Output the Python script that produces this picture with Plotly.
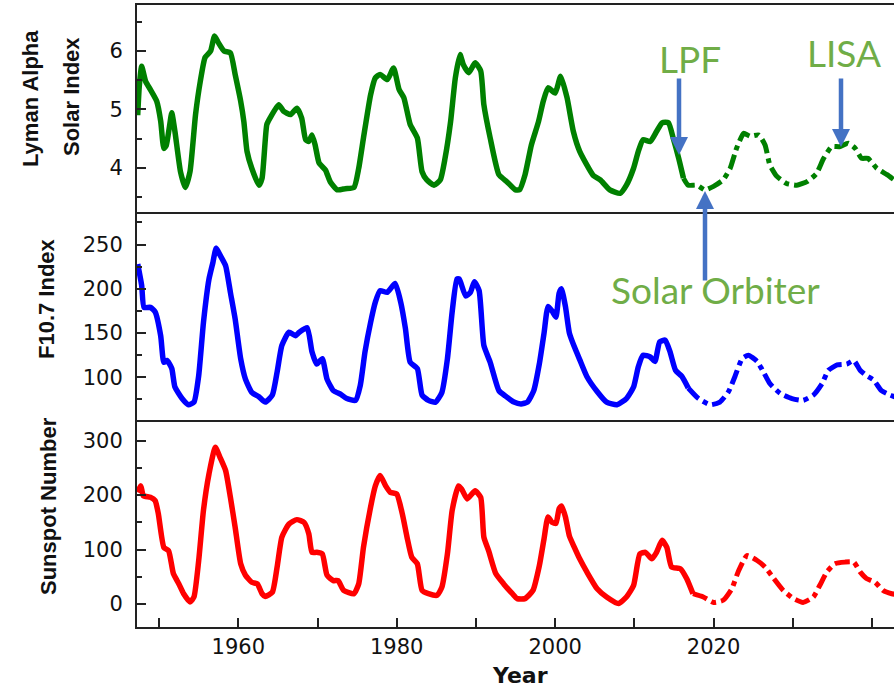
import plotly.graph_objects as go
from plotly.subplots import make_subplots

# ---------------- data ----------------
ly_years = [1947.3, 1947.5, 1947.8, 1948.3, 1948.9, 1949.7, 1950.2, 1950.6, 1950.9, 1951.3,
            1951.6, 1952.0, 1952.7, 1953.3, 1953.9, 1954.6, 1955.2, 1955.8, 1956.5, 1957.0,
            1957.5, 1958.2, 1959.0, 1959.6, 1960.3, 1960.7, 1961.1, 1961.7, 1962.6, 1963.0,
            1963.6, 1964.0, 1965.1, 1965.7, 1966.6, 1967.4, 1968.0, 1968.5, 1968.9, 1969.3,
            1969.7, 1970.2, 1971.0, 1971.6, 1972.5, 1973.5, 1974.6, 1975.2, 1975.8, 1976.7,
            1977.3, 1977.9, 1978.8, 1979.6, 1980.3, 1980.9, 1981.7, 1982.6, 1983.2, 1983.8,
            1984.7, 1985.5, 1986.1, 1986.8, 1987.4, 1988.0, 1988.4, 1989.1, 1989.9, 1990.6,
            1991.0, 1991.8, 1992.9, 1993.9, 1995.0, 1995.5, 1996.2, 1997.0, 1997.9, 1998.5,
            1999.1, 2000.0, 2000.7, 2001.5, 2002.3, 2003.1, 2004.8, 2005.7, 2006.9, 2008.2,
            2009.0, 2009.9, 2010.5, 2011.1, 2012.0, 2012.8, 2013.5, 2014.3, 2014.9, 2015.6,
            2016.2]
ly_values = [4.90, 5.40, 5.74, 5.48, 5.34, 5.14, 4.80, 4.33, 4.38, 4.70,
             4.94, 4.62, 3.93, 3.66, 3.93, 4.91, 5.48, 5.89, 6.00, 6.26,
             6.14, 6.00, 5.97, 5.60, 5.14, 4.79, 4.28, 3.99, 3.70, 3.82,
             4.74, 4.85, 5.08, 4.97, 4.91, 5.02, 4.85, 4.48, 4.45, 4.56,
             4.39, 4.08, 3.96, 3.76, 3.62, 3.64, 3.66, 3.99, 4.51, 5.25,
             5.54, 5.60, 5.51, 5.71, 5.34, 5.20, 4.74, 4.51, 3.93, 3.79,
             3.70, 3.79, 4.16, 4.79, 5.54, 5.94, 5.77, 5.63, 5.80, 5.66,
             5.08, 4.51, 3.88, 3.76, 3.62, 3.62, 3.88, 4.39, 4.79, 5.14,
             5.37, 5.28, 5.57, 5.20, 4.62, 4.28, 3.87, 3.79, 3.62, 3.56,
             3.70, 3.99, 4.28, 4.48, 4.45, 4.62, 4.77, 4.77, 4.51, 4.16,
             3.82]
ly_fc_years = [2016.2, 2016.8, 2017.9, 2018.9, 2020.0, 2021.2, 2022.1, 2022.9, 2023.8, 2024.6,
               2025.7, 2026.5, 2027.1, 2028.0, 2029.2, 2030.5, 2031.8, 2033.0, 2033.9, 2034.9,
               2035.9, 2037.0, 2037.9, 2038.7, 2039.5, 2040.6, 2041.9, 2042.9]
ly_fc_values = [3.82, 3.70, 3.70, 3.62, 3.68, 3.79, 3.99, 4.33, 4.59, 4.54,
                4.56, 4.39, 4.05, 3.85, 3.73, 3.70, 3.76, 3.90, 4.16, 4.36,
                4.36, 4.42, 4.33, 4.16, 4.16, 3.99, 3.88, 3.78]

f107_years = [1947.3, 1947.8, 1948.1, 1948.9, 1949.5, 1950.2, 1950.6, 1951.0, 1951.6, 1952.0,
              1952.9, 1953.7, 1954.4, 1955.0, 1955.6, 1956.3, 1956.8, 1957.2, 1957.7, 1958.4,
              1959.0, 1959.6, 1960.3, 1960.9, 1961.7, 1962.6, 1963.4, 1964.3, 1964.9, 1965.5,
              1966.4, 1967.2, 1967.7, 1968.7, 1969.3, 1969.9, 1970.6, 1971.2, 1972.0, 1972.9,
              1973.7, 1974.8, 1975.4, 1976.0, 1976.7, 1977.3, 1977.9, 1978.8, 1979.8, 1980.5,
              1981.1, 1981.7, 1982.6, 1983.2, 1984.0, 1984.9, 1985.7, 1986.4, 1987.0, 1987.6,
              1987.9, 1988.7, 1989.3, 1989.8, 1990.4, 1991.0, 1991.8, 1992.9, 1993.7, 1994.8,
              1995.7, 1996.5, 1997.3, 1998.0, 1998.6, 1999.1, 1999.6, 2000.1, 2000.5, 2000.8,
              2001.3, 2001.8, 2002.4, 2003.1, 2004.0, 2005.3, 2006.5, 2007.8, 2009.0, 2009.9,
              2010.5, 2011.1, 2012.0, 2012.6, 2013.2, 2013.9, 2014.5, 2015.2, 2016.0, 2016.8]
f107_values = [228, 204, 179, 179, 174, 147, 117, 119, 110, 89,
               76, 69, 72, 102, 162, 211, 230, 246, 238, 226,
               196, 166, 121, 98, 83, 78, 72, 80, 106, 136,
               151, 147, 151, 156, 129, 115, 121, 98, 85, 81,
               76, 74, 91, 129, 162, 185, 198, 196, 206, 185,
               155, 117, 110, 80, 74, 72, 83, 121, 174, 211,
               211, 192, 196, 208, 198, 136, 117, 85, 79, 72,
               70, 72, 85, 115, 150, 180, 175, 168, 195, 200,
               180, 150, 135, 120, 101, 84, 72, 69, 76, 89,
               112, 125, 123, 118, 140, 142, 129, 108, 101, 88]
f107_fc_years = [2016.8, 2018.1, 2019.6, 2020.8, 2021.9, 2022.7, 2023.6, 2024.4, 2025.5, 2026.3,
                 2027.1, 2028.4, 2029.9, 2031.3, 2032.6, 2033.7, 2034.5, 2035.6, 2036.8, 2037.7,
                 2038.5, 2039.3, 2040.2, 2041.2, 2042.3, 2042.9]
f107_fc_values = [88, 76, 69, 72, 84, 101, 121, 125, 118, 106,
                  93, 82, 76, 74, 80, 93, 108, 114, 115, 119,
                  108, 102, 97, 85, 80, 78]

ssn_years = [1947.3, 1947.7, 1948.0, 1948.9, 1949.5, 1949.9, 1950.6, 1951.2, 1951.8, 1952.5,
             1953.1, 1953.9, 1954.4, 1955.0, 1955.6, 1956.3, 1957.1, 1957.7, 1958.4, 1959.0,
             1959.6, 1960.3, 1960.9, 1961.7, 1962.4, 1963.0, 1963.4, 1964.3, 1964.9, 1965.5,
             1966.4, 1967.4, 1968.3, 1968.9, 1969.3, 1969.9, 1970.6, 1971.2, 1972.0, 1972.6,
             1973.3, 1974.6, 1975.2, 1975.8, 1976.7, 1977.3, 1977.9, 1978.6, 1979.2, 1980.0,
             1980.7, 1981.3, 1981.9, 1982.6, 1983.2, 1984.0, 1985.1, 1985.7, 1986.4, 1987.0,
             1987.8, 1988.2, 1988.9, 1989.9, 1990.6, 1991.0, 1991.6, 1992.5, 1993.5, 1994.6,
             1995.2, 1996.2, 1997.2, 1998.0, 1998.6, 1999.1, 1999.6, 2000.1, 2000.5, 2000.8,
             2001.3, 2001.8, 2002.4, 2003.1, 2004.0, 2005.3, 2006.5, 2008.0, 2009.0, 2009.9,
             2010.7, 2011.4, 2012.2, 2012.8, 2013.5, 2014.1, 2014.7, 2015.8, 2016.6, 2017.4]
ssn_values = [205, 217, 199, 196, 190, 166, 104, 98, 56, 37,
              19, 4, 13, 80, 172, 239, 288, 269, 245, 196,
              141, 74, 53, 40, 37, 19, 14, 22, 68, 123,
              147, 155, 150, 129, 95, 95, 92, 53, 43, 43,
              25, 19, 37, 104, 178, 217, 236, 217, 205, 202,
              166, 123, 86, 74, 25, 19, 16, 31, 92, 172,
              217, 211, 193, 208, 196, 123, 98, 56, 37, 19,
              10, 10, 25, 70, 120, 160, 150, 148, 175, 180,
              160, 125, 105, 83, 59, 28, 13, 1, 13, 34,
              92, 95, 83, 95, 117, 104, 68, 65, 47, 19]
ssn_fc_years = [2017.4, 2018.7, 2020.0, 2021.2, 2022.3, 2023.1, 2024.2, 2025.5, 2026.5, 2027.6,
                2028.8, 2030.1, 2031.3, 2032.6, 2033.4, 2034.3, 2035.3, 2036.6, 2037.7, 2038.5,
                2039.3, 2040.4, 2041.4, 2042.5, 2042.9]
ssn_fc_values = [19, 13, 3, 7, 28, 59, 89, 80, 68, 47,
                 25, 10, 3, 13, 34, 59, 74, 77, 77, 59,
                 47, 40, 25, 19, 18]

x_range = [1947.21, 2042.78]
y_ranges = {"ly": [3.24, 6.79], "f107": [51.8, 286.8], "ssn": [-42.1, 337.9]}
panel_titles = [["Lyman Alpha", "Solar Index"], ["F10.7 Index"], ["Sunspot Number"]]
mission_labels = ["LPF", "LISA", "Solar Orbiter"]
x_title = "Year"

# ---------------- figure ----------------
fig = make_subplots(rows=3, cols=1, shared_xaxes=True, vertical_spacing=0)

series = [
    (ly_years, ly_values, ly_fc_years, ly_fc_values, "#008000", 1),
    (f107_years, f107_values, f107_fc_years, f107_fc_values, "#0000FF", 2),
    (ssn_years, ssn_values, ssn_fc_years, ssn_fc_values, "#FF0000", 3),
]
for xs, ys, fxs, fys, col, row in series:
    assert len(xs) == len(ys) and len(fxs) == len(fys)
    fig.add_trace(go.Scatter(x=xs, y=ys, mode="lines",
                             line=dict(color=col, width=5.5, shape="spline", smoothing=0.5),
                             showlegend=False, hoverinfo="skip"), row=row, col=1)
    fig.add_trace(go.Scatter(x=fxs, y=fys, mode="lines",
                             line=dict(color=col, width=5, dash="dashdot",
                                       shape="spline", smoothing=0.5),
                             showlegend=False, hoverinfo="skip"), row=row, col=1)

W, H = 894, 687
ML, MR, MT, MB = 137, 0, 5, 60
PW, PH = W - ML - MR, H - MT - MB

def px_x(X):
    return (X - ML) / PW

def px_y(Y):
    return (H - MB - Y) / PH

b1 = px_y(212)
b2 = px_y(420)

axis_line = dict(showline=True, linewidth=2, linecolor="#222222", showgrid=False, zeroline=False)
tickfont = dict(family="DejaVu Sans", size=21, color="#111111")

fig.update_layout(
    width=W, height=H, template="none",
    margin=dict(l=ML, r=MR, t=MT, b=MB, pad=0),
    paper_bgcolor="white", plot_bgcolor="white",
    yaxis=dict(domain=[b1, 1], range=y_ranges["ly"], dtick=1, tick0=4,
               ticks="inside", ticklen=9, tickwidth=2, tickcolor="#222222",
               minor=dict(ticks="inside", dtick=0.5, tick0=3.5, ticklen=5, tickwidth=2, tickcolor="#222222"),
               tickfont=tickfont, ticklabelstandoff=8, **axis_line),
    yaxis2=dict(domain=[b2, b1], range=y_ranges["f107"],
                tickvals=[100, 150, 200, 250],
                ticks="inside", ticklen=9, tickwidth=2, tickcolor="#222222",
                minor=dict(ticks="inside", dtick=25, tick0=75, ticklen=5, tickwidth=2, tickcolor="#222222"),
                tickfont=tickfont, ticklabelstandoff=8, **axis_line),
    yaxis3=dict(domain=[0, b2], range=y_ranges["ssn"], dtick=100, tick0=0,
                ticks="inside", ticklen=9, tickwidth=2, tickcolor="#222222",
                minor=dict(ticks="inside", dtick=50, tick0=0, ticklen=5, tickwidth=2, tickcolor="#222222"),
                tickfont=tickfont, ticklabelstandoff=8, **axis_line),
    # top panel draws both its top and bottom frame lines; the others only their bottom line
    xaxis=dict(range=x_range, mirror=True, showticklabels=False, ticks="", **axis_line),
    xaxis2=dict(range=x_range, mirror=False, showticklabels=False, ticks="", **axis_line),
    xaxis3=dict(range=x_range, mirror=False, dtick=20, tick0=1960,
                ticks="inside", ticklen=9, tickwidth=2, tickcolor="#222222",
                minor=dict(ticks="inside", dtick=10, tick0=1950, ticklen=9, tickwidth=2, tickcolor="#222222"),
                tickfont=tickfont, ticklabelstandoff=0, **axis_line),
)

title_font = dict(family="Liberation Sans", size=22, color="#111111", weight="bold")
annotations = []
# y-axis titles
for text, X, Y in [(panel_titles[0][0], 31, 98), (panel_titles[0][1], 72, 97),
                   (panel_titles[1][0], 46, 299), (panel_titles[2][0], 48, 506)]:
    annotations.append(dict(text=text, x=px_x(X), y=px_y(Y), xref="paper", yref="paper",
                            xanchor="center", yanchor="middle", textangle=-90,
                            showarrow=False, font=title_font))
# x-axis title
annotations.append(dict(text=x_title, x=px_x(520), y=px_y(675), xref="paper", yref="paper",
                        xanchor="center", yanchor="middle", showarrow=False,
                        font=dict(family="DejaVu Sans", size=22, color="#111111", weight="bold")))
# mission labels
lab_font = dict(family="Lato", size=37, color="#70AD47")
for text, X, Y in [(mission_labels[0], 690, 58), (mission_labels[1], 844, 52),
                   (mission_labels[2], 715, 289)]:
    annotations.append(dict(text=text, x=px_x(X), y=px_y(Y), xref="paper", yref="paper",
                            xanchor="center", yanchor="middle", showarrow=False, font=lab_font))
# arrows
for X, Y, ay in [(679, 155, -78), (841, 147, -70), (705, 191, 91)]:
    annotations.append(dict(text="", x=px_x(X), y=px_y(Y), xref="paper", yref="paper",
                            ax=0, ay=ay, showarrow=True, arrowhead=2, arrowsize=0.8,
                            arrowwidth=4.5, arrowcolor="#4472C4"))
fig.update_layout(annotations=annotations)

fig.write_html("out.html")
